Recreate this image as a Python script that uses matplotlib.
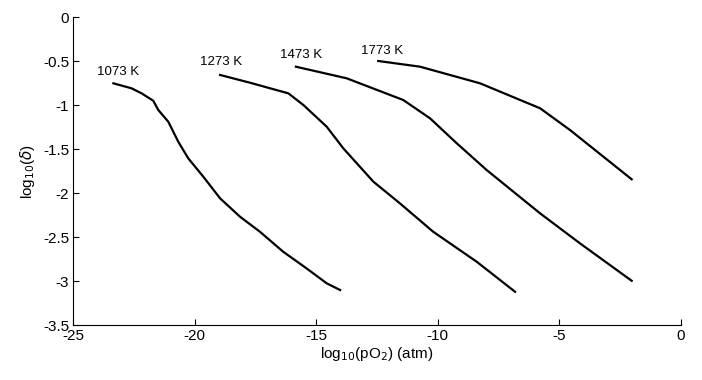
import matplotlib
matplotlib.use("Agg")
from matplotlib import pyplot as plt
from matplotlib.ticker import FormatStrFormatter

plt.rcParams['font.family'] = ['Liberation Sans', 'DejaVu Sans']

# 1073 K
x1073 = [-23.35, -22.60, -22.19, -21.71, -21.50, -21.09, -20.68, -20.27, -19.65, -18.96,
         -18.14, -17.32, -16.36, -15.40, -14.57, -14.02]
y1073 = [-0.751, -0.808, -0.865, -0.949, -1.055, -1.188, -1.415, -1.604, -1.813, -2.059,
         -2.268, -2.439, -2.667, -2.856, -3.026, -3.102]
# 1273 K
x1273 = [-18.96, -17.73, -16.15, -15.53, -14.57, -13.89, -12.65, -11.56, -10.19, -8.40, -6.82]
y1273 = [-0.656, -0.744, -0.865, -0.998, -1.245, -1.490, -1.870, -2.116, -2.439, -2.780, -3.122]
# 1473 K
x1473 = [-15.84, -13.75, -11.42, -10.32, -9.22, -7.99, -5.79, -4.15, -2.02]
y1473 = [-0.562, -0.694, -0.941, -1.149, -1.433, -1.737, -2.230, -2.571, -2.997]
# 1773 K
x1773 = [-12.45, -10.73, -8.26, -5.79, -4.56, -2.02]
y1773 = [-0.497, -0.562, -0.751, -1.035, -1.282, -1.843]

labels = ["1073 K", "1273 K", "1473 K", "1773 K"]
label_x = [-24.04, -19.79, -16.49, -13.17]
label_y = [-0.619, -0.505, -0.429, -0.387]

fig = plt.figure(figsize=(7.02, 3.80), dpi=100)
ax = fig.add_axes([0.1044, 0.1447, 0.8654, 0.8098])

for xs, ys in [(x1073, y1073), (x1273, y1273), (x1473, y1473), (x1773, y1773)]:
    ax.plot(xs, ys, color="black", lw=1.6)

for lab, lx, ly in zip(labels, label_x, label_y):
    ax.text(lx, ly, lab, ha="left", va="center", fontsize=9.5)

ax.set_xlim(-25, 0)
ax.set_ylim(-3.5, 0)
ax.set_xticks([-25, -20, -15, -10, -5, 0])
ax.set_yticks([-3.5, -3, -2.5, -2, -1.5, -1, -0.5, 0])
ax.yaxis.set_major_formatter(FormatStrFormatter('%g'))
ax.xaxis.set_major_formatter(FormatStrFormatter('%g'))
ax.tick_params(direction="in", length=4, width=0.8, labelsize=11, pad=3)
ax.spines['top'].set_visible(False)
ax.spines['right'].set_visible(False)

ax.set_xlabel("log$_{10}$(pO$_2$) (atm)", fontsize=11, labelpad=1)
ax.set_ylabel("log$_{10}$($\\delta$)", fontsize=11, labelpad=4)

plt.savefig("out.png", dpi=100)
